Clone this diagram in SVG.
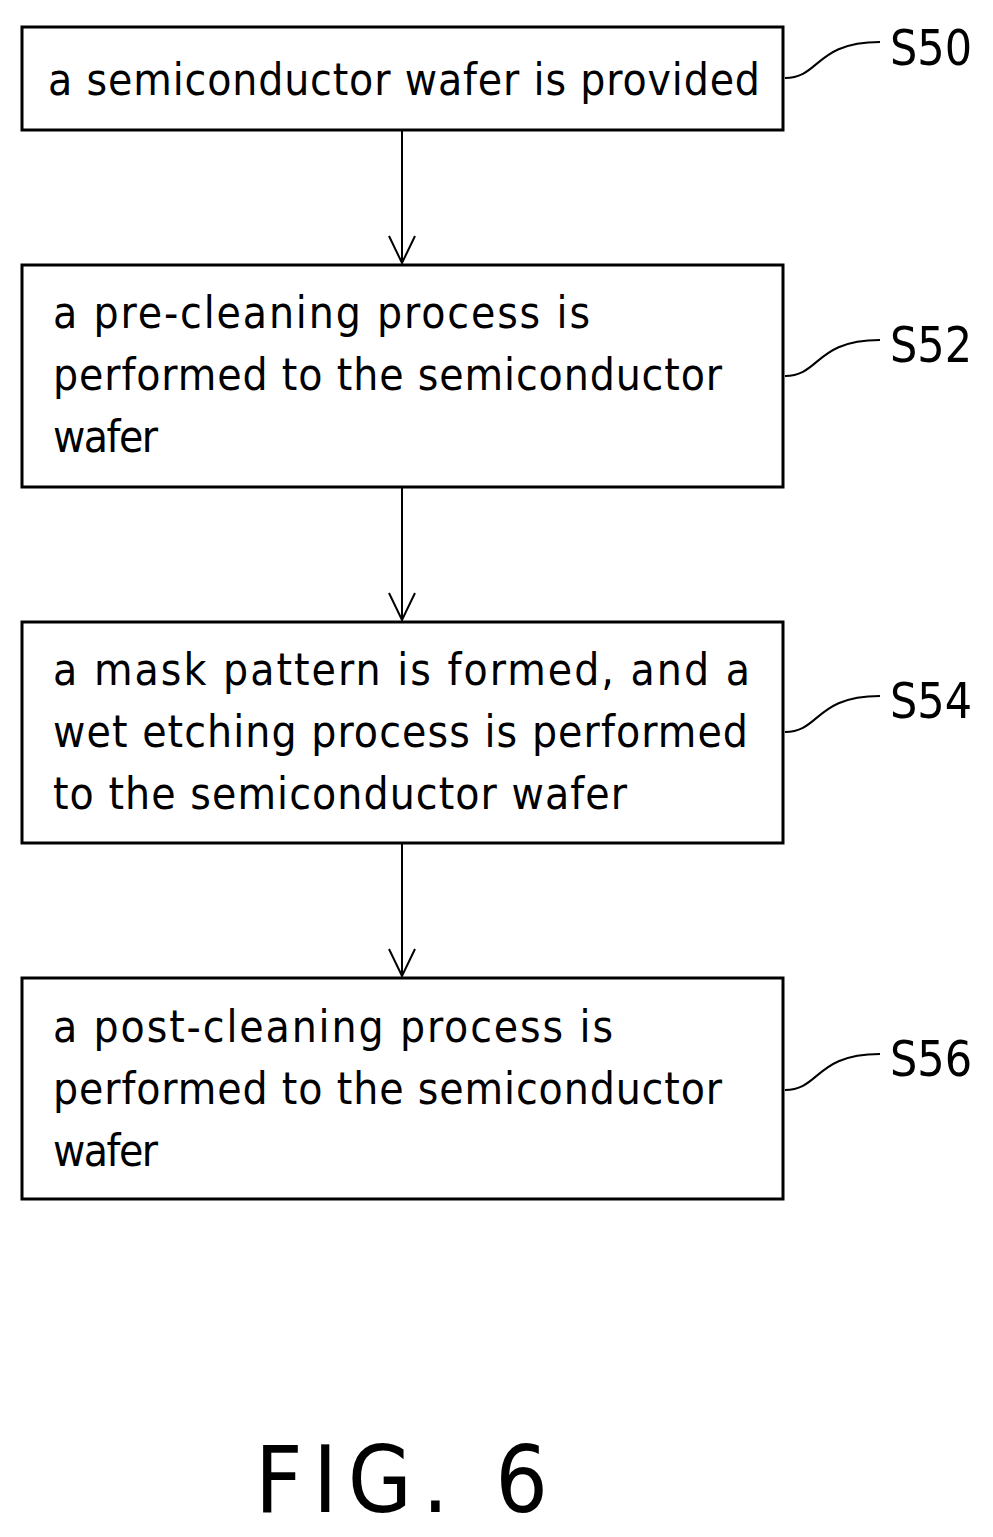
<svg xmlns="http://www.w3.org/2000/svg" width="993" height="1537" viewBox="0 0 993 1537">
<style>
.b{fill:#fff;stroke:#000;stroke-width:3}
.t{font-family:"DejaVu Sans Condensed","Liberation Sans",sans-serif;font-size:44px;fill:#000}
.l{font-family:"DejaVu Sans Condensed","Liberation Sans",sans-serif;font-size:50px;fill:#000}
.c{fill:none;stroke:#000;stroke-width:2}
</style>
<rect width="993" height="1537" fill="#fff"/>
<g id="connectors">
<line class="c" x1="402" y1="130" x2="402" y2="263"/><path class="c" d="M389,236 L402,263 L415,236"/>
<line class="c" x1="402" y1="487" x2="402" y2="620"/><path class="c" d="M389,593 L402,620 L415,593"/>
<line class="c" x1="402" y1="843" x2="402" y2="976"/><path class="c" d="M389,949 L402,976 L415,949"/>
</g>
<g id="S50"><rect class="b" x="22" y="27" width="761" height="103"/>
<text class="t" x="48" y="95" textLength="712" lengthAdjust="spacing">a semiconductor wafer is provided</text>
<path class="c" d="M785,78 C820,78 815,42 880,42"/><text class="l" x="890" y="65" textLength="82" lengthAdjust="spacingAndGlyphs">S50</text></g>
<g id="S52"><rect class="b" x="22" y="265" width="761" height="222"/>
<text class="t" x="53" y="328" textLength="537" lengthAdjust="spacing">a pre-cleaning process is</text>
<text class="t" x="53" y="390" textLength="669" lengthAdjust="spacing">performed to the semiconductor</text>
<text class="t" x="53" y="452" textLength="105" lengthAdjust="spacing">wafer</text>
<path class="c" d="M785,376 C820,376 815,340 880,340"/><text class="l" x="890" y="362" textLength="82" lengthAdjust="spacingAndGlyphs">S52</text></g>
<g id="S54"><rect class="b" x="22" y="622" width="761" height="221"/>
<text class="t" x="53" y="685" textLength="697" lengthAdjust="spacing">a mask pattern is formed, and a</text>
<text class="t" x="53" y="747" textLength="695" lengthAdjust="spacing">wet etching process is performed</text>
<text class="t" x="53" y="809" textLength="574" lengthAdjust="spacing">to the semiconductor wafer</text>
<path class="c" d="M785,732 C820,732 815,696 880,696"/><text class="l" x="890" y="718" textLength="82" lengthAdjust="spacingAndGlyphs">S54</text></g>
<g id="S56"><rect class="b" x="22" y="978" width="761" height="221"/>
<text class="t" x="53" y="1042" textLength="560" lengthAdjust="spacing">a post-cleaning process is</text>
<text class="t" x="53" y="1104" textLength="669" lengthAdjust="spacing">performed to the semiconductor</text>
<text class="t" x="53" y="1166" textLength="105" lengthAdjust="spacing">wafer</text>
<path class="c" d="M785,1090 C820,1090 815,1054 880,1054"/><text class="l" x="890" y="1076" textLength="82" lengthAdjust="spacingAndGlyphs">S56</text></g>
<text x="255" y="1512" font-family="DejaVu Sans Condensed,Liberation Sans,sans-serif" font-size="92" textLength="293" lengthAdjust="spacing">FIG. 6</text>
</svg>
